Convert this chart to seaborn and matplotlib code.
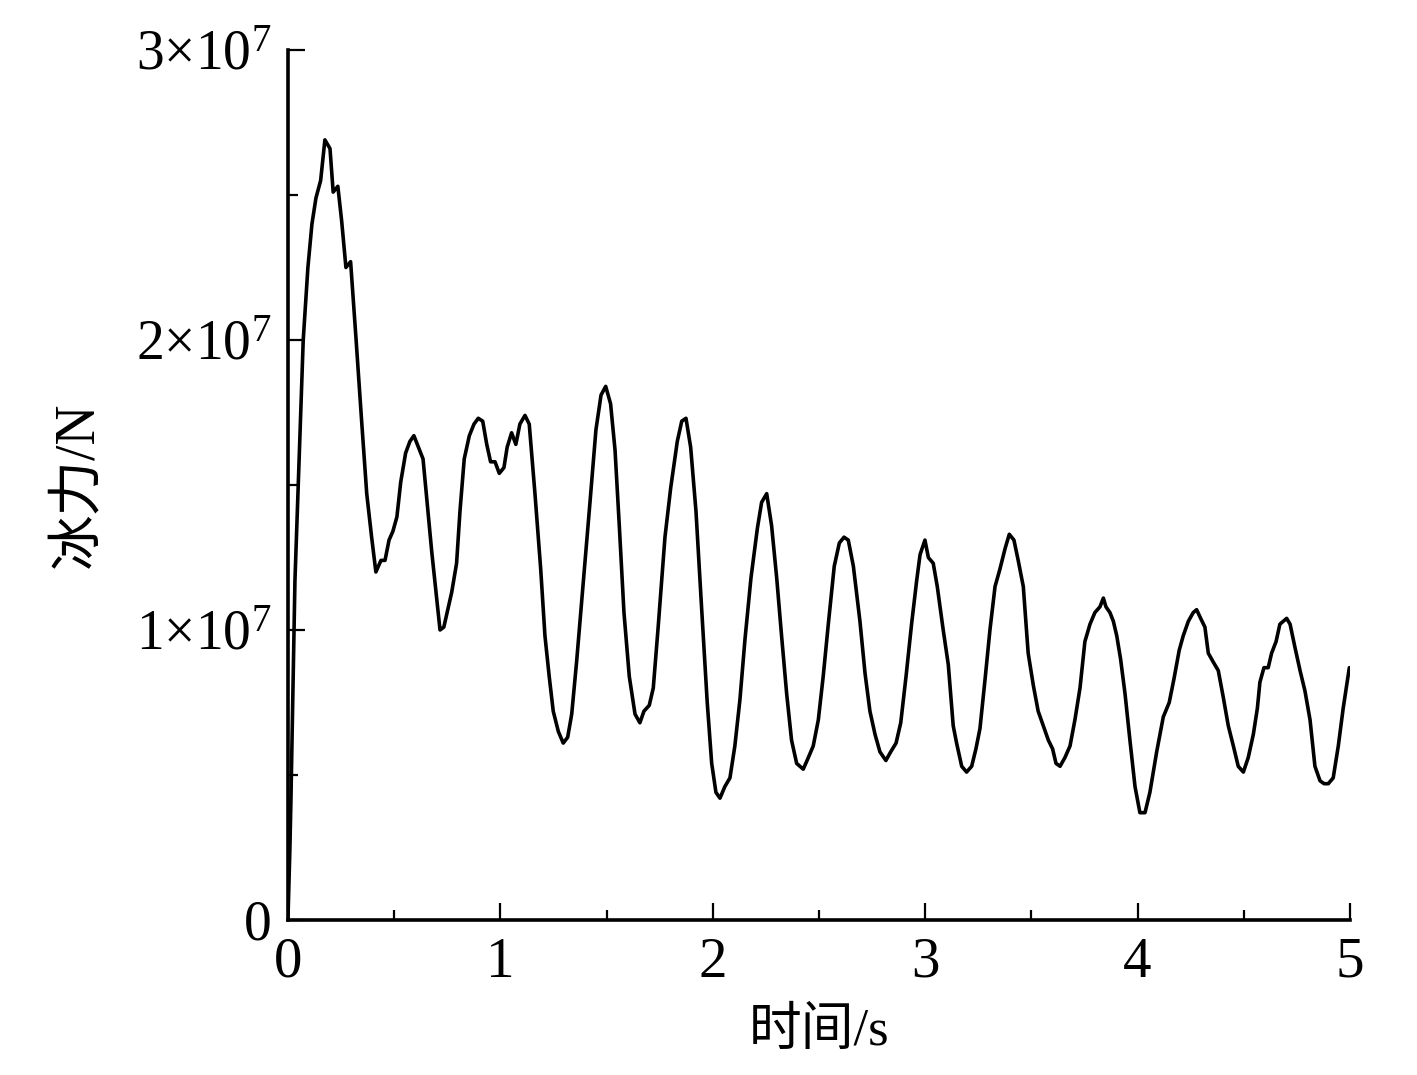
import matplotlib
matplotlib.use('Agg')
from matplotlib import pyplot as plt
from matplotlib.ticker import MultipleLocator
import pandas as pd
import seaborn as sns

# time in s
time_s = [
    0.000, 0.009, 0.014, 0.033, 0.072, 0.094, 0.113, 0.132, 0.154, 0.174,
    0.198, 0.213, 0.235, 0.253, 0.273, 0.295, 0.320, 0.347, 0.371, 0.394,
    0.414, 0.438, 0.457, 0.476, 0.494, 0.513, 0.531, 0.554, 0.574, 0.593,
    0.636, 0.677, 0.716, 0.734, 0.771, 0.794, 0.810, 0.830, 0.854, 0.876,
    0.896, 0.917, 0.936, 0.954, 0.975, 0.995, 1.017, 1.032, 1.053, 1.073,
    1.092, 1.116, 1.136, 1.163, 1.190, 1.210, 1.230, 1.249, 1.273, 1.296,
    1.317, 1.336, 1.359, 1.390, 1.422, 1.450, 1.474, 1.496, 1.519, 1.540,
    1.560, 1.582, 1.607, 1.634, 1.657, 1.676, 1.701, 1.720, 1.743, 1.775,
    1.802, 1.833, 1.854, 1.874, 1.896, 1.921, 1.948, 1.974, 1.995, 2.015,
    2.034, 2.057, 2.081, 2.104, 2.128, 2.152, 2.180, 2.210, 2.230, 2.254,
    2.277, 2.301, 2.324, 2.348, 2.371, 2.395, 2.426, 2.450, 2.473, 2.497,
    2.520, 2.544, 2.572, 2.596, 2.618, 2.638, 2.662, 2.693, 2.717, 2.740,
    2.764, 2.787, 2.815, 2.838, 2.863, 2.885, 2.910, 2.936, 2.960, 2.976,
    2.999, 3.015, 3.038, 3.057, 3.085, 3.109, 3.132, 3.148, 3.172, 3.195,
    3.219, 3.239, 3.258, 3.282, 3.305, 3.329, 3.352, 3.376, 3.396, 3.418,
    3.438, 3.462, 3.485, 3.509, 3.532, 3.556, 3.580, 3.600, 3.616, 3.635,
    3.658, 3.682, 3.705, 3.729, 3.752, 3.776, 3.799, 3.823, 3.839, 3.851,
    3.870, 3.886, 3.902, 3.920, 3.941, 3.964, 3.988, 4.011, 4.035, 4.058,
    4.090, 4.121, 4.149, 4.171, 4.196, 4.215, 4.239, 4.262, 4.278, 4.297,
    4.317, 4.333, 4.356, 4.380, 4.403, 4.427, 4.451, 4.474, 4.498, 4.521,
    4.545, 4.564, 4.576, 4.595, 4.615, 4.631, 4.652, 4.670, 4.686, 4.702,
    4.718, 4.741, 4.765, 4.788, 4.812, 4.835, 4.859, 4.878, 4.898, 4.921,
    4.945, 4.968, 4.997,
]

# ice force in units of 1e7 N
force_1e7 = [
    0.00, 0.24, 0.41, 1.17, 2.00, 2.25, 2.40, 2.49, 2.55, 2.69,
    2.66, 2.51, 2.53, 2.41, 2.25, 2.27, 2.01, 1.72, 1.47, 1.32,
    1.20, 1.24, 1.24, 1.31, 1.34, 1.39, 1.51, 1.61, 1.65, 1.67,
    1.59, 1.27, 1.00, 1.01, 1.13, 1.23, 1.41, 1.59, 1.67, 1.71,
    1.73, 1.72, 1.64, 1.58, 1.58, 1.54, 1.56, 1.63, 1.68, 1.64,
    1.71, 1.74, 1.71, 1.47, 1.21, 0.98, 0.84, 0.72, 0.65, 0.61,
    0.63, 0.71, 0.89, 1.16, 1.44, 1.69, 1.81, 1.84, 1.78, 1.62,
    1.36, 1.06, 0.84, 0.71, 0.68, 0.72, 0.74, 0.80, 1.01, 1.32,
    1.49, 1.65, 1.72, 1.73, 1.63, 1.41, 1.07, 0.75, 0.54, 0.44,
    0.42, 0.46, 0.49, 0.60, 0.76, 0.97, 1.18, 1.35, 1.44, 1.47,
    1.36, 1.18, 0.98, 0.78, 0.62, 0.54, 0.52, 0.56, 0.60, 0.69,
    0.84, 1.02, 1.22, 1.30, 1.32, 1.31, 1.22, 1.03, 0.85, 0.72,
    0.64, 0.58, 0.55, 0.58, 0.61, 0.68, 0.84, 1.02, 1.17, 1.26,
    1.31, 1.25, 1.23, 1.15, 1.00, 0.88, 0.67, 0.61, 0.53, 0.51,
    0.53, 0.59, 0.66, 0.83, 1.00, 1.15, 1.21, 1.28, 1.33, 1.31,
    1.24, 1.15, 0.92, 0.81, 0.72, 0.67, 0.62, 0.59, 0.54, 0.53,
    0.56, 0.60, 0.69, 0.80, 0.96, 1.02, 1.06, 1.08, 1.11, 1.08,
    1.06, 1.03, 0.98, 0.90, 0.78, 0.62, 0.46, 0.37, 0.37, 0.44,
    0.58, 0.70, 0.75, 0.83, 0.93, 0.98, 1.03, 1.06, 1.07, 1.04,
    1.01, 0.92, 0.89, 0.86, 0.77, 0.67, 0.60, 0.53, 0.51, 0.56,
    0.64, 0.73, 0.82, 0.87, 0.87, 0.92, 0.96, 1.02, 1.03, 1.04,
    1.02, 0.94, 0.86, 0.79, 0.69, 0.53, 0.48, 0.47, 0.47, 0.49,
    0.60, 0.73, 0.87,
]

y_ticks = [0, 1e7, 2e7, 3e7]
y_tick_labels = ['0', '1×10$^{7}$', '2×10$^{7}$', '3×10$^{7}$']
x_ticks = [0, 1, 2, 3, 4, 5]

df = pd.DataFrame({'t': time_s, 'F': [v * 1e7 for v in force_1e7]})

sns.set_style('ticks')
plt.rcParams['font.family'] = ['Liberation Serif', 'Noto Sans CJK SC']
plt.rcParams['mathtext.fontset'] = 'custom'
plt.rcParams['mathtext.rm'] = 'Liberation Serif'
plt.rcParams['mathtext.it'] = 'Liberation Serif'
plt.rcParams['text.color'] = 'black'
plt.rcParams['axes.labelcolor'] = 'black'

fig = plt.figure(figsize=(14.17, 10.75), dpi=100)
ax = fig.add_axes([0.2032, 0.1442, 0.7495, 0.8093])

sns.lineplot(data=df, x='t', y='F', color='black', linewidth=2.6, ax=ax, estimator=None, sort=False)

ax.set_xlim(0, 5)
ax.set_ylim(0, 3e7)
ax.set_xticks(x_ticks)
ax.set_xticklabels([str(x) for x in x_ticks])
ax.set_yticks(y_ticks)
ax.set_yticklabels(y_tick_labels)
ax.xaxis.set_minor_locator(MultipleLocator(0.5))
ax.yaxis.set_minor_locator(MultipleLocator(5e6))

sns.despine(ax=ax)
for side in ['left', 'bottom']:
    ax.spines[side].set_linewidth(2.6)
    ax.spines[side].set_color('black')

ax.tick_params(axis='both', which='major', direction='in', length=12, width=1.6, colors='black')
ax.tick_params(axis='both', which='minor', direction='in', length=7, width=1.6, colors='black')
ax.tick_params(axis='x', which='major', labelsize=41, pad=12)
ax.tick_params(axis='y', which='major', labelsize=40, pad=12)

ax.set_xlabel('时间/s', fontsize=38, labelpad=14)
ax.set_ylabel('冰力/N', fontsize=40, labelpad=22)

fig.savefig('out.png', dpi=100)
